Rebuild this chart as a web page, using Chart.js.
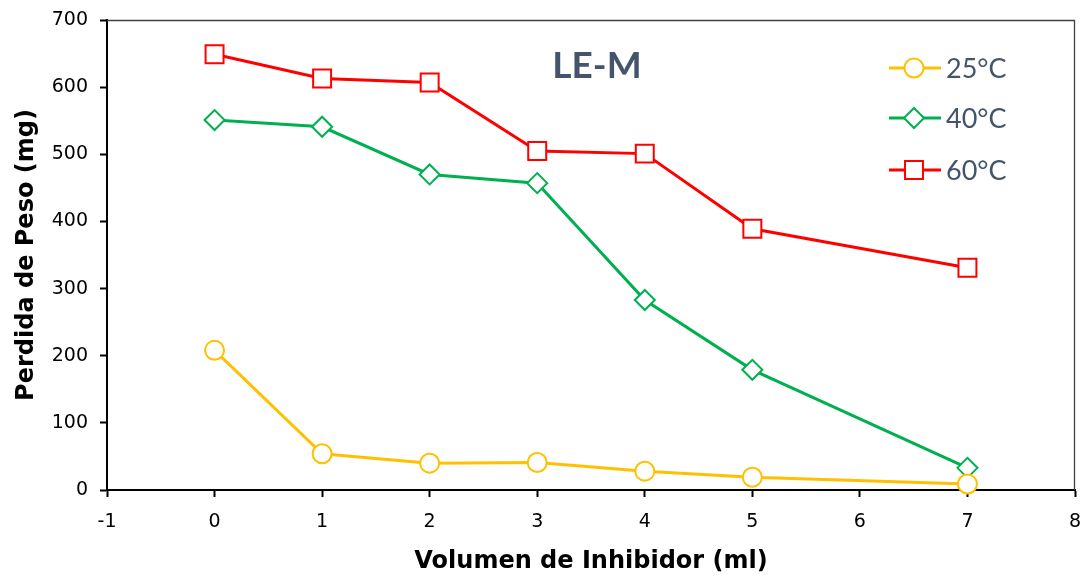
<!DOCTYPE html>
<html>
<head>
<meta charset="utf-8">
<script src="https://cdn.jsdelivr.net/npm/chart.js@4.4.1/dist/chart.umd.min.js"></script>
<style>
  html, body { margin: 0; padding: 0; background: #fff; }
  #wrap { width: 1081px; height: 577px; position: relative; }
</style>
</head>
<body>
<div id="wrap"><canvas id="c" width="1081" height="577"></canvas></div>
<script>
const volumes = [0, 1, 2, 3, 4, 5, 7];
const loss25 = [208, 54, 40, 41, 28, 19, 9];
const loss40 = [551, 541, 470, 457, 283, 179, 33];
const loss60 = [649, 613, 607, 505, 501, 389, 331];
const seriesLabels = ['25°C', '40°C', '60°C'];
const xTicks = [-1, 0, 1, 2, 3, 4, 5, 6, 7, 8];
const yTicks = [0, 100, 200, 300, 400, 500, 600, 700];
const chartTitle = 'LE-M';
const xTitle = 'Volumen de Inhibidor (ml)';
const yTitle = 'Perdida de Peso (mg)';

function pts(ys) { return volumes.map((x, i) => ({ x: x, y: ys[i] })); }

const colors = ['#FFC000', '#00B050', '#FF0000'];
const styles = ['circle', 'rectRot', 'rect'];
const radii = [9.5, 10, 12.7];

const datasets = [loss25, loss40, loss60].map((d, i) => ({
  label: seriesLabels[i],
  data: pts(d),
  borderColor: colors[i],
  backgroundColor: '#ffffff',
  borderWidth: 3,
  pointStyle: styles[i],
  pointRadius: radii[i],
  pointBorderWidth: 2,
  pointBackgroundColor: '#ffffff',
  pointBorderColor: colors[i],
  tension: 0,
  clip: false
}));

const extras = {
  id: 'extras',
  afterDatasetsDraw(chart) {
    const ctx = chart.ctx;
    const a = chart.chartArea;
    ctx.save();
    ctx.strokeStyle = '#404040';
    ctx.lineWidth = 1.3;
    ctx.beginPath();
    ctx.moveTo(a.left, a.top + 0.5);
    ctx.lineTo(a.right - 0.5, a.top + 0.5);
    ctx.lineTo(a.right - 0.5, a.bottom);
    ctx.stroke();
    ctx.fillStyle = '#44546A';
    ctx.font = 'bold 37px Lato, "Open Sans", sans-serif';
    ctx.textAlign = 'center';
    ctx.textBaseline = 'middle';
    ctx.fillText(chartTitle, 597, 66);
    const rows = [68, 118, 170];
    chart.data.datasets.forEach((ds, i) => {
      const y = rows[i];
      ctx.strokeStyle = ds.borderColor;
      ctx.lineWidth = 3;
      ctx.beginPath();
      ctx.moveTo(889, y);
      ctx.lineTo(941, y);
      ctx.stroke();
      ctx.fillStyle = '#ffffff';
      ctx.strokeStyle = ds.borderColor;
      ctx.lineWidth = 2;
      Chart.helpers.drawPoint(ctx, { pointStyle: ds.pointStyle, rotation: 0, radius: ds.pointRadius, borderWidth: 2 }, 914, y);
      ctx.fillStyle = '#44546A';
      ctx.font = '27px Lato, "Open Sans", sans-serif';
      ctx.textAlign = 'left';
      ctx.textBaseline = 'middle';
      ctx.fillText(ds.label, 946, y + 1);
    });
    ctx.restore();
  }
};

new Chart(document.getElementById('c'), {
  type: 'line',
  data: { datasets: datasets },
  options: {
    responsive: false,
    animation: false,
    devicePixelRatio: 1,
    layout: { autoPadding: false, padding: { top: 20, right: 6, left: 0, bottom: 0 } },
    plugins: { legend: { display: false }, tooltip: { enabled: false } },
    scales: {
      x: {
        type: 'linear',
        min: -1, max: 8,
        afterBuildTicks: (s) => { s.ticks = xTicks.map(v => ({ value: v })); },
        afterFit: (s) => { s.height = 87; s.paddingRight = 0; s.paddingLeft = 0; },
        grid: { display: true, drawOnChartArea: false, drawTicks: true, tickLength: 7, color: '#000', tickWidth: 2 },
        border: { display: true, color: '#000', width: 2 },
        ticks: { color: '#000', font: { family: '"DejaVu Sans", sans-serif', size: 19 }, padding: 14, maxRotation: 0 },
        title: { display: true, text: xTitle, color: '#000', font: { family: '"DejaVu Sans", sans-serif', size: 24, weight: 'bold' }, padding: { top: 0, bottom: 1 } }
      },
      y: {
        type: 'linear',
        min: 0, max: 700,
        afterBuildTicks: (s) => { s.ticks = yTicks.map(v => ({ value: v })); },
        afterFit: (s) => { s.width = 107; s.paddingTop = 0; s.paddingBottom = 0; },
        grid: { display: true, drawOnChartArea: false, drawTicks: true, tickLength: 7, color: '#000', tickWidth: 2 },
        border: { display: true, color: '#000', width: 2 },
        ticks: { color: '#000', font: { family: '"DejaVu Sans", sans-serif', size: 19 }, padding: 12 },
        title: { display: true, text: yTitle, color: '#000', font: { family: '"DejaVu Sans", sans-serif', size: 24, weight: 'bold' }, padding: { top: 12, bottom: 0 } }
      }
    }
  },
  plugins: [extras]
});
</script>
</body>
</html>
